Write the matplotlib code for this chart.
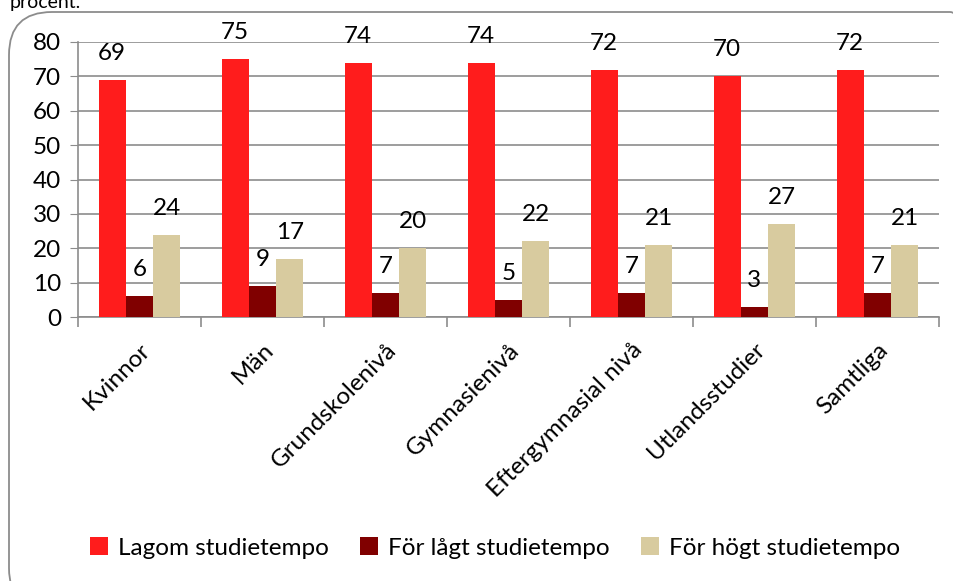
import matplotlib
matplotlib.use("Agg")
import matplotlib.pyplot as plt
from matplotlib.patches import FancyBboxPatch
import numpy as np

plt.rcParams['font.family'] = ['Lato', 'DejaVu Sans']

categories = ["Kvinnor", "Män", "Grundskolenivå", "Gymnasienivå",
              "Eftergymnasial nivå", "Utlandsstudier", "Samtliga"]
series_names = ["Lagom studietempo", "För lågt studietempo", "För högt studietempo"]
lagom = [69, 75, 74, 74, 72, 70, 72]
lagt = [6, 9, 7, 5, 7, 3, 7]
hogt = [24, 17, 20, 22, 21, 27, 21]
colors = ["#FF1C1C", "#800000", "#D8CB9F"]

W, H = 954, 581
FS = 17.5
fig = plt.figure(figsize=(W/100, H/100), dpi=100)
ax = fig.add_axes([78/W, 1-317/H, (939-78)/W, (317-42)/H])

# rounded frame
frame = FancyBboxPatch((9/W, -30/H), (W+30)/W, (H-12+30)/H,
                       boxstyle="round,pad=0,rounding_size=0.045",
                       transform=fig.transFigure, fill=False,
                       edgecolor="#8C8C8C", linewidth=1.3, zorder=0,
                       mutation_aspect=W/H)
fig.patches.append(frame)
fig.text(10/W, 1-8/H, "procent.", fontsize=14, va='baseline', ha='left')

x = np.arange(len(categories))
bw = 0.222
for i, (vals, name, c) in enumerate(zip([lagom, lagt, hogt], series_names, colors)):
    pos = x + (i-1)*bw
    bars = ax.bar(pos, vals, width=bw, color=c, label=name, zorder=3)
    for b, v in zip(bars, vals):
        ax.annotate(str(v), (b.get_x()+b.get_width()/2, v), xytext=(0, 19),
                    textcoords='offset points', ha='center', va='center',
                    fontsize=FS, annotation_clip=False, zorder=4)

ax.set_xlim(-0.5, len(categories)-0.5)
ax.set_ylim(0, 80)
ax.set_yticks(range(0, 81, 10))
ax.yaxis.grid(True, color="#8C8C8C", linewidth=1.2, zorder=0)
ax.set_axisbelow(True)
for s in ['top', 'right']:
    ax.spines[s].set_visible(False)
ax.spines['left'].set_color("#8C8C8C")
ax.spines['bottom'].set_color("#8C8C8C")
ax.spines['left'].set_linewidth(1.2)
ax.spines['bottom'].set_linewidth(1.2)
ax.tick_params(axis='y', length=6, color="#8C8C8C", labelsize=FS, pad=6)
ax.set_xticks(np.arange(-0.5, len(categories), 1.0))
ax.set_xticklabels([])
ax.tick_params(axis='x', length=7, color="#8C8C8C", width=1.2)
ax.set_xticks(x, minor=True)
ax.set_xticklabels(categories, minor=True, rotation=45, ha='right',
                   rotation_mode='anchor', fontsize=FS)
ax.tick_params(axis='x', which='minor', length=0, pad=16)

leg = fig.legend(loc='center', bbox_to_anchor=(495/W, 1-548/H), ncol=3,
                 frameon=False, fontsize=FS, handlelength=0.75, handleheight=0.75,
                 handletextpad=0.4, columnspacing=1.3)

fig.savefig("out.png", dpi=100)
